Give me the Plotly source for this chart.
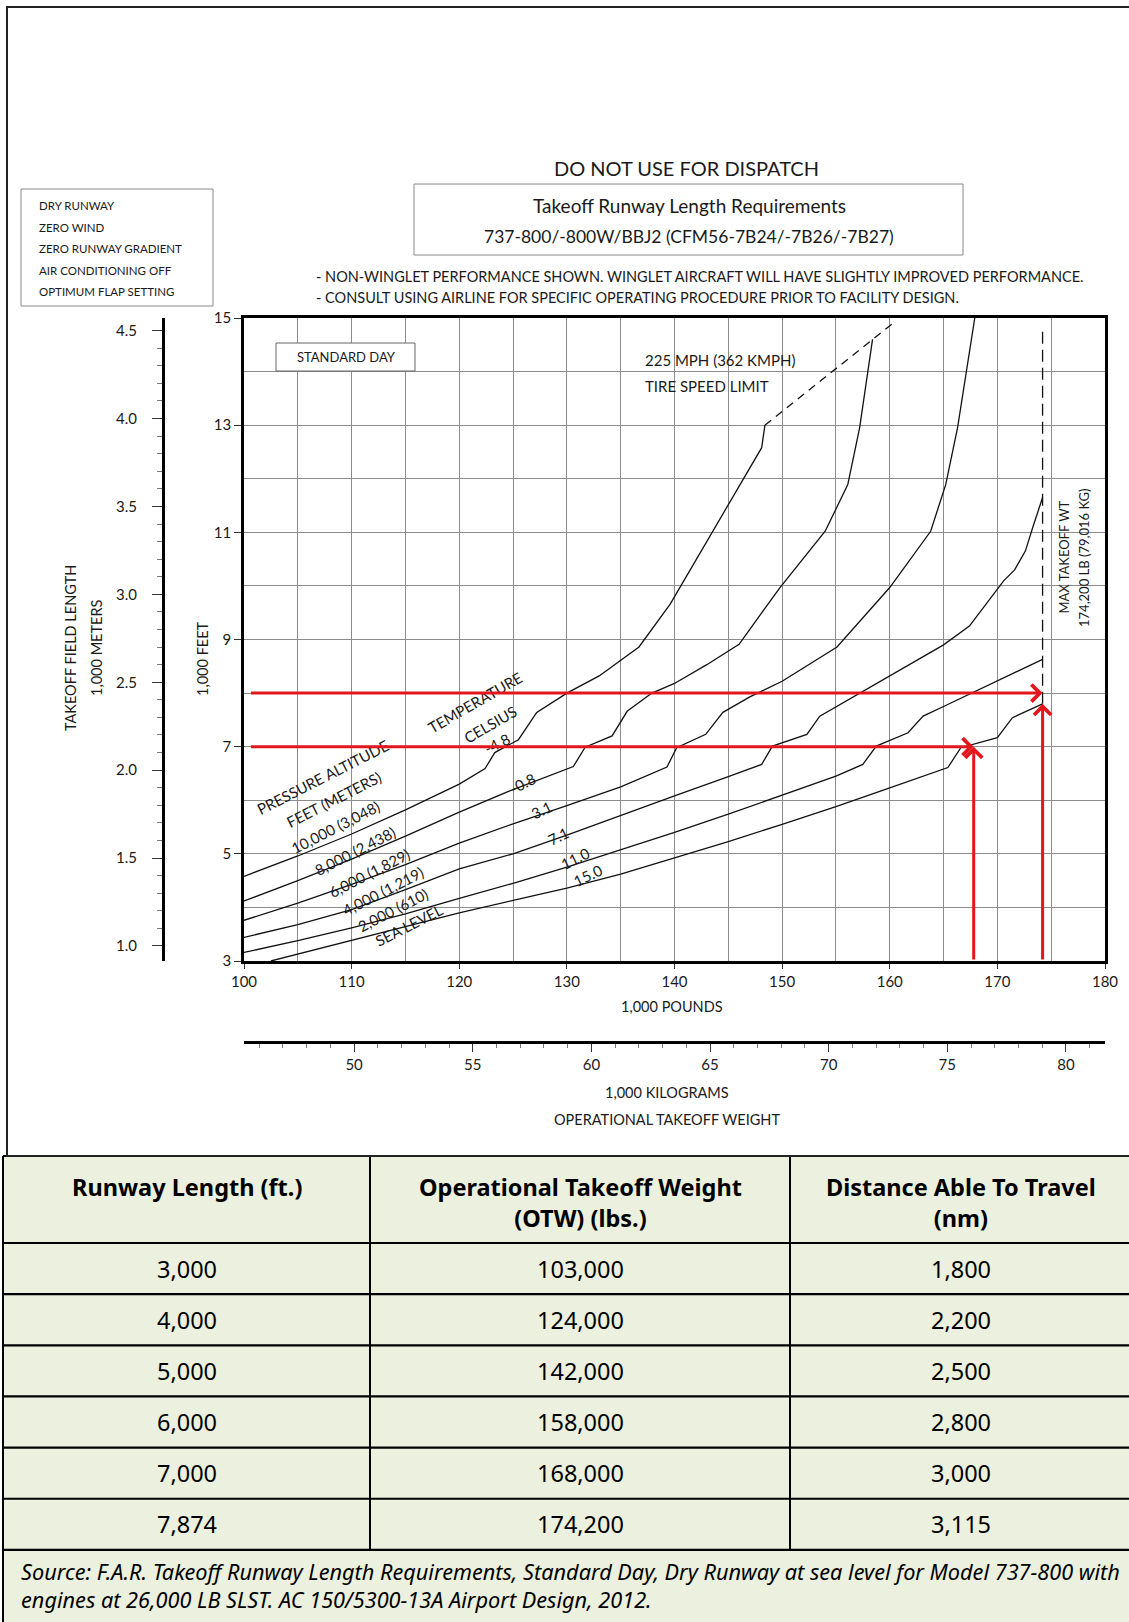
import plotly.graph_objects as go

W, H = 1129, 1622
FT_PER_M = 3.28084
LB_PER_KG = 2.20462

# ---------------- data (x: 1,000 lb, y: 1,000 ft) ----------------
alt_labels = ["10,000 (3,048)", "8,000 (2,438)", "6,000 (1,829)", "4,000 (1,219)", "2,000 (610)", "SEA LEVEL"]
temp_labels = ["-4.8", "-0.8", "3.1", "7.1", "11.0", "15.0"]

alt10k_x = [100, 105, 110, 115, 120, 122.4, 123.3, 125.5, 127.2, 130, 133, 136.7, 139.6, 143.8, 146.3, 148.1, 148.4]
alt10k_y = [4.58, 4.96, 5.37, 5.82, 6.3, 6.59, 6.89, 7.13, 7.64, 8.0, 8.32, 8.86, 9.66, 11.09, 11.96, 12.58, 13.0]

alt8k_x = [100, 105, 110, 115, 120, 125, 130.6, 131.7, 134.2, 135.6, 137.9, 140, 143, 146, 149.8, 154, 156.1, 157.2, 158.4]
alt8k_y = [4.12, 4.5, 4.9, 5.33, 5.78, 6.2, 6.63, 6.99, 7.2, 7.66, 8.0, 8.18, 8.53, 8.91, 9.97, 11.02, 11.89, 12.95, 14.6]

alt6k_x = [100, 105, 110, 115, 120, 125, 130, 135, 139.3, 140.2, 142.9, 144.5, 147, 150, 155.1, 157.5, 160, 163.8, 165.2, 166.3, 167.9]
alt6k_y = [3.76, 4.08, 4.43, 4.8, 5.2, 5.56, 5.9, 6.25, 6.62, 6.98, 7.23, 7.64, 7.93, 8.22, 8.86, 9.4, 9.97, 11.02, 11.89, 12.95, 15.0]

alt4k_x = [100, 105, 110, 115, 120, 125, 130, 135, 140, 145, 148.1, 149.1, 152.3, 153.5, 156, 160, 165, 167.4, 169.4, 170.6, 171.6, 172.6, 173.3, 174.2]
alt4k_y = [3.44, 3.68, 3.96, 4.33, 4.72, 5.0, 5.35, 5.72, 6.08, 6.44, 6.67, 7.01, 7.23, 7.57, 7.86, 8.32, 8.9, 9.25, 9.78, 10.1, 10.3, 10.65, 11.1, 11.65]

alt2k_x = [100, 105, 110, 115, 120, 125, 130, 135, 140, 145, 150, 155, 157.5, 158.75, 161.7, 163.1, 165, 170, 174.2]
alt2k_y = [3.16, 3.38, 3.62, 3.88, 4.17, 4.45, 4.75, 5.07, 5.4, 5.74, 6.09, 6.45, 6.67, 7.01, 7.26, 7.57, 7.75, 8.23, 8.63]

altsl_x = [102.5, 105, 110, 115, 120, 125, 130, 135, 140, 145, 150, 155, 160, 165.4, 166.6, 170, 171.4, 174.2]
altsl_y = [3.0, 3.13, 3.38, 3.64, 3.9, 4.13, 4.36, 4.62, 4.92, 5.23, 5.55, 5.88, 6.23, 6.61, 6.98, 7.17, 7.54, 7.8]

tire_limit_x = [148.4, 160.6]
tire_limit_y = [13.0, 14.95]

mtow_klb = 174.2
mtow_y = [7.8, 14.85]

# red guide arrows
guide_ft = [7.0, 8.0]        # runway length read-out
guide_lb = [167.8, 174.2]    # operational takeoff weight
guide_meet = [7.0, 7.8]      # where vertical arrows stop
guide_start_lb = 100.5

# table
col_headers = ["Runway Length (ft.)", "Operational Takeoff Weight<br>(OTW) (lbs.)", "Distance Able To Travel<br>(nm)"]
runway_ft = ["3,000", "4,000", "5,000", "6,000", "7,000", "7,874"]
otw_lbs = ["103,000", "124,000", "142,000", "158,000", "168,000", "174,200"]
distance_nm = ["1,800", "2,200", "2,500", "2,800", "3,000", "3,115"]
source_text = ("Source: F.A.R. Takeoff Runway Length Requirements, Standard Day, Dry Runway at sea level for Model 737-800 with"
               "<br>engines at 26,000 LB SLST. AC 150/5300-13A Airport Design, 2012.")

x_ticks_lb = [100, 110, 120, 130, 140, 150, 160, 170, 180]
y_ticks_ft = [3, 5, 7, 9, 11, 13, 15]
m_ticks = [1.0, 1.5, 2.0, 2.5, 3.0, 3.5, 4.0, 4.5]
kg_ticks = [50, 55, 60, 65, 70, 75, 80]

# ---------------- layout helpers ----------------
def px(x):
    return x / W

def py(y):
    return 1 - y / H

FONT = "Lato"
TFONT = "Noto Sans"
RED = "#E3161D"
GRID = "#8c8c8c"
GREEN = "#EBF1DE"

x_dom = [px(244), px(1105)]
y_dom = [py(961), py(318)]

fig = go.Figure()

curves = [(alt10k_x, alt10k_y), (alt8k_x, alt8k_y), (alt6k_x, alt6k_y),
          (alt4k_x, alt4k_y), (alt2k_x, alt2k_y), (altsl_x, altsl_y)]
for (cx, cy), name in zip(curves, alt_labels):
    fig.add_trace(go.Scatter(x=cx, y=cy, mode="lines", name=name,
                             line=dict(color="#111111", width=1.3), showlegend=False,
                             hoverinfo="skip"))

fig.add_trace(go.Scatter(x=tire_limit_x, y=tire_limit_y, mode="lines",
                         line=dict(color="#111111", width=1.3, dash="8px,6px"),
                         showlegend=False, hoverinfo="skip"))
fig.add_trace(go.Scatter(x=[mtow_klb, mtow_klb], y=mtow_y, mode="lines",
                         line=dict(color="#111111", width=1.3, dash="12px,6px"),
                         showlegend=False, hoverinfo="skip"))

# invisible traces to activate the secondary (metric) axes
fig.add_trace(go.Scatter(x=[x_ticks_lb[0], x_ticks_lb[-1]],
                         y=[y_ticks_ft[0] / FT_PER_M, y_ticks_ft[-1] / FT_PER_M],
                         xaxis="x", yaxis="y2", mode="markers",
                         marker=dict(opacity=0), showlegend=False, hoverinfo="skip"))
fig.add_trace(go.Scatter(x=[x_ticks_lb[0] / LB_PER_KG, x_ticks_lb[-1] / LB_PER_KG],
                         y=[y_ticks_ft[0], y_ticks_ft[-1]],
                         xaxis="x2", yaxis="y", mode="markers",
                         marker=dict(opacity=0), showlegend=False, hoverinfo="skip"))

ann = []
shapes = []

def txt(x, y, s, size=14, xref="paper", yref="paper", angle=0, xanchor="center",
        yanchor="middle", family=FONT, color="#1a1a1a", align="center"):
    ann.append(dict(x=x, y=y, text=s, xref=xref, yref=yref, showarrow=False,
                    textangle=angle, xanchor=xanchor, yanchor=yanchor, align=align,
                    font=dict(family=family, size=size, color=color)))

# header texts
txt(px(686), py(168), "DO NOT USE FOR DISPATCH", size=20)
txt(px(689), py(206), "Takeoff Runway Length Requirements", size=19)
txt(px(689), py(237), "737-800/-800W/BBJ2 (CFM56-7B24/-7B26/-7B27)", size=17.5)
txt(px(314), py(277), "- NON-WINGLET PERFORMANCE SHOWN. WINGLET AIRCRAFT WILL HAVE SLIGHTLY IMPROVED PERFORMANCE.", size=14.5, xanchor="left")
txt(px(314), py(297), "- CONSULT USING AIRLINE FOR SPECIFIC OPERATING PROCEDURE PRIOR TO FACILITY DESIGN.", size=14.5, xanchor="left")
for i, s in enumerate(["DRY RUNWAY", "ZERO WIND", "ZERO RUNWAY GRADIENT", "AIR CONDITIONING OFF", "OPTIMUM FLAP SETTING"]):
    txt(px(37), py(206 + i * 21.5), s, size=11.5, xanchor="left")

# axis titles
txt(px(70), py(648), "TAKEOFF FIELD LENGTH", size=14.5, angle=-90)
txt(px(96), py(648), "1,000 METERS", size=14.5, angle=-90)
txt(px(202), py(659), "1,000 FEET", size=14.5, angle=-90)
txt(px(672), py(1007), "1,000 POUNDS", size=14.5)
txt(px(667), py(1092), "1,000 KILOGRAMS", size=14.5)
txt(px(667), py(1119), "OPERATIONAL TAKEOFF WEIGHT", size=14.5)

# in-plot labels
txt(px(346), py(357), "STANDARD DAY", size=13)
txt(137.1, 14.22, "225 MPH (362 KMPH)", size=15, xref="x", yref="y", xanchor="left")
txt(137.1, 13.74, "TIRE SPEED LIMIT", size=15, xref="x", yref="y", xanchor="left")
txt(176.1, 10.53, "MAX TAKEOFF WT", size=13, xref="x", yref="y", angle=-90)
txt(178.0, 10.53, "174,200 LB (79,016 KG)", size=13, xref="x", yref="y", angle=-90)

txt(107.3, 6.44, "PRESSURE ALTITUDE", size=15, xref="x", yref="y", angle=-27)
txt(108.4, 6.02, "FEET (METERS)", size=15, xref="x", yref="y", angle=-27)
alt_pos = [(108.5, 5.5), (110.3, 5.05), (111.6, 4.65), (112.9, 4.3), (113.8, 3.95), (115.3, 3.68)]
for (lx, ly), s in zip(alt_pos, alt_labels):
    txt(lx, ly, s, size=15, xref="x", yref="y", angle=-27)
txt(121.5, 7.84, "TEMPERATURE", size=15, xref="x", yref="y", angle=-30)
txt(122.9, 7.43, "CELSIUS", size=15, xref="x", yref="y", angle=-30)
temp_pos = [(123.6, 7.06), (125.9, 6.33), (127.6, 5.82), (129.2, 5.33), (130.8, 4.93), (132.0, 4.6)]
for (lx, ly), s in zip(temp_pos, temp_labels):
    txt(lx, ly, s, size=15, xref="x", yref="y", angle=-26)

# red guide arrows
for gy, gx, gm in zip(guide_ft, guide_lb, guide_meet):
    ann.append(dict(x=gx, y=gy, ax=guide_start_lb, ay=gy, xref="x", yref="y", axref="x", ayref="y",
                    showarrow=True, arrowhead=4, arrowsize=1.1, arrowwidth=3, arrowcolor=RED, text=""))
    ann.append(dict(x=gx, y=gm, ax=gx, ay=y_ticks_ft[0], xref="x", yref="y", axref="x", ayref="y",
                    showarrow=True, arrowhead=4, arrowsize=1.1, arrowwidth=3, arrowcolor=RED, text=""))

# ---------------- table (drawn as cells from the arrays) ----------------
tbl_left, tbl_right = 3, W + 3
tbl_top, head_h, row_h, src_h = 1156, 87, 51.15, 72
col_edges = [tbl_left, 370, 790, tbl_right]
columns = [runway_ft, otw_lbs, distance_nm]
n_rows = len(runway_ft)
body_bottom = tbl_top + head_h + n_rows * row_h

shapes.append(dict(type="rect", xref="paper", yref="paper", x0=px(tbl_left), x1=px(tbl_right),
                   y0=py(H + 5), y1=py(tbl_top), fillcolor=GREEN, line=dict(width=0), layer="below"))
# horizontal rules
for yy in [tbl_top + head_h + k * row_h for k in range(-1, n_rows + 1)]:
    yy = tbl_top if yy < tbl_top + head_h - 1 else yy
    shapes.append(dict(type="line", xref="paper", yref="paper", x0=px(tbl_left), x1=px(tbl_right),
                       y0=py(yy), y1=py(yy), line=dict(color="black", width=2.2)))
# vertical rules
for xx in col_edges[:-1]:
    y_end = H + 5 if xx == tbl_left else body_bottom
    shapes.append(dict(type="line", xref="paper", yref="paper", x0=px(xx), x1=px(xx),
                       y0=py(tbl_top), y1=py(y_end), line=dict(color="black", width=2)))

for c, (h, vals) in enumerate(zip(col_headers, columns)):
    cx = px((col_edges[c] + col_edges[c + 1]) / 2)
    txt(cx, py(tbl_top + 13), "<b>" + h + "</b>", size=23.5, yanchor="top", family=TFONT, color="black")
    for r, v in enumerate(vals):
        cy = tbl_top + head_h + (r + 0.5) * row_h
        txt(cx, py(cy), v, size=23.5, family=TFONT, color="black")

txt(px(19), py(body_bottom + src_h / 2), "<i>" + source_text + "</i>", size=21.7,
    xanchor="left", family=TFONT, color="black", align="left")

# ---------------- frames ----------------
shapes += [
    dict(type="rect", xref="paper", yref="paper", x0=px(7), x1=px(W + 10), y0=py(tbl_top), y1=py(7),
         line=dict(color="#222", width=2)),
    dict(type="rect", xref="paper", yref="paper", x0=px(21), x1=px(213), y0=py(306), y1=py(189),
         line=dict(color="#888", width=1)),
    dict(type="rect", xref="paper", yref="paper", x0=px(414), x1=px(963), y0=py(255), y1=py(184),
         line=dict(color="#888", width=1)),
    dict(type="rect", xref="paper", yref="paper", x0=px(276), x1=px(415), y0=py(371), y1=py(343),
         line=dict(color="#666", width=1), fillcolor="white", layer="above"),
]

fig.update_layout(
    template="none",
    width=W, height=H, margin=dict(l=0, r=0, t=0, b=0, pad=0, autoexpand=False),
    paper_bgcolor="white", plot_bgcolor="white", showlegend=False,
    annotations=ann, shapes=shapes,
    xaxis=dict(domain=x_dom, range=[x_ticks_lb[0], x_ticks_lb[-1]], anchor="y",
               tickvals=x_ticks_lb, ticks="outside", ticklen=5, tickcolor="#333",
               showgrid=True, gridcolor=GRID, gridwidth=1, automargin=False,
               minor=dict(dtick=5, tick0=100, showgrid=True, gridcolor=GRID, gridwidth=1, ticks=""),
               showline=True, mirror=True, linecolor="black", linewidth=2.5, zeroline=False,
               tickfont=dict(family=FONT, size=15, color="#1a1a1a")),
    yaxis=dict(domain=y_dom, range=[y_ticks_ft[0], y_ticks_ft[-1]], anchor="x",
               tickvals=y_ticks_ft, ticks="outside", ticklen=7, tickcolor="#333",
               showgrid=True, gridcolor=GRID, gridwidth=1, automargin=False,
               minor=dict(dtick=1, tick0=3, showgrid=True, gridcolor=GRID, gridwidth=1, ticks=""),
               showline=True, mirror=True, linecolor="black", linewidth=2.5, zeroline=False,
               tickfont=dict(family=FONT, size=15, color="#1a1a1a")),
    yaxis2=dict(overlaying="y", anchor="free", position=px(163), side="left",
                range=[y_ticks_ft[0] / FT_PER_M, y_ticks_ft[-1] / FT_PER_M], automargin=False,
                tickvals=m_ticks, tickformat=".1f", ticks="outside", ticklen=10, tickcolor="#333",
                minor=dict(dtick=0.1, tick0=1.0, ticks="outside", ticklen=5, tickcolor="#777"),
                showgrid=False, zeroline=False, showline=True, linecolor="black", linewidth=3,
                ticklabelstandoff=12,
                tickfont=dict(family=FONT, size=15, color="#1a1a1a")),
    xaxis2=dict(overlaying="x", anchor="free", position=py(1042), side="bottom",
                range=[x_ticks_lb[0] / LB_PER_KG, x_ticks_lb[-1] / LB_PER_KG], automargin=False,
                tickvals=kg_ticks, ticks="outside", ticklen=8, tickcolor="#333",
                minor=dict(dtick=1, tick0=45, ticks="outside", ticklen=4, tickcolor="#777"),
                showgrid=False, zeroline=False, showline=True, linecolor="black", linewidth=3,
                tickfont=dict(family=FONT, size=15, color="#1a1a1a")),
)

fig.write_html("out.html", config={"displayModeBar": False},
               post_script="document.body.style.margin='0px';")
